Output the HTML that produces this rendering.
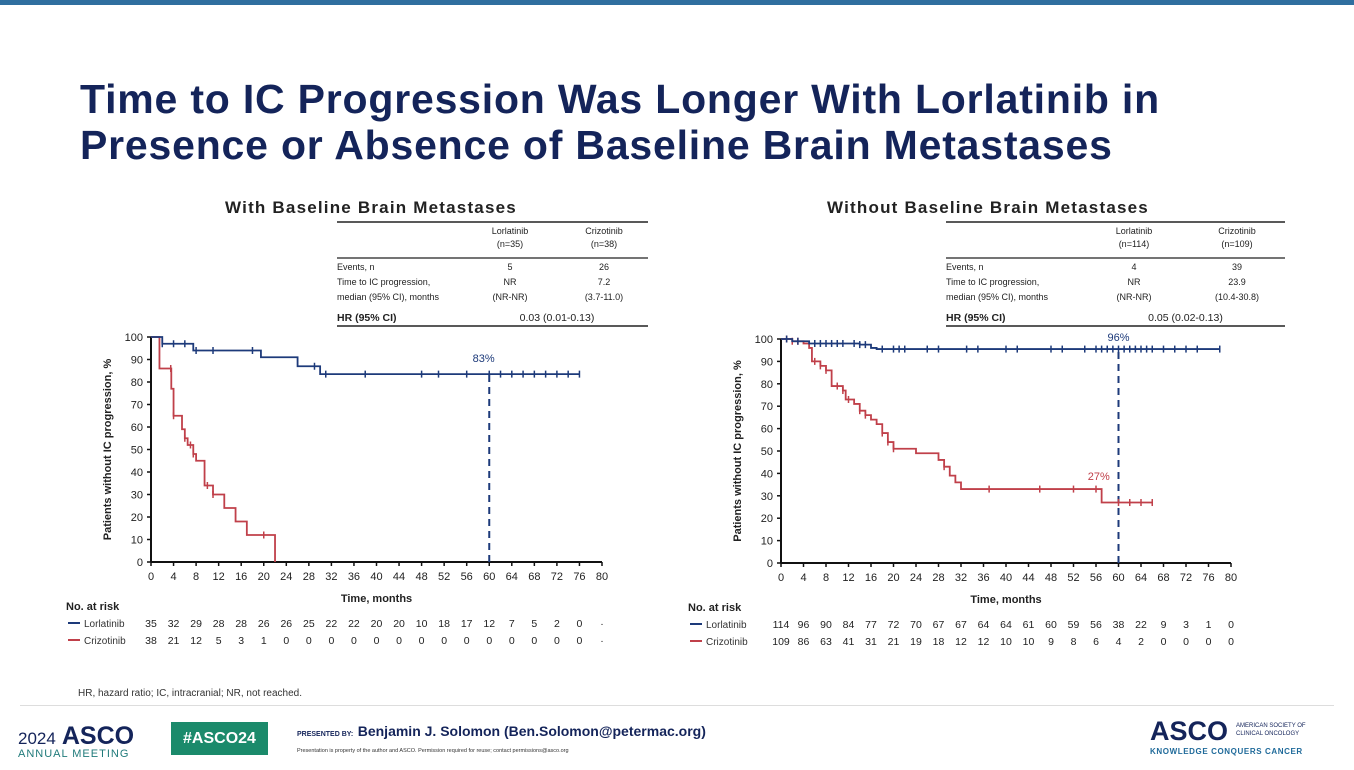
<!DOCTYPE html>
<html><head><meta charset="utf-8">
<style>
html,body{margin:0;padding:0;background:#fff;}
body{width:1354px;height:770px;position:relative;overflow:hidden;font-family:"Liberation Sans",sans-serif;}
.abs{position:absolute;}
</style></head>
<body>
<div class="abs" style="left:0;top:0;width:1354px;height:5px;background:#2f6f9f;"></div>
<div class="abs" style="left:80px;top:76px;font-size:41px;letter-spacing:0.8px;font-weight:bold;color:#14245a;line-height:46px;white-space:nowrap;">Time to IC Progression Was Longer With Lorlatinib in<br>Presence or Absence of Baseline Brain Metastases</div>

<svg class="abs" style="left:0;top:0" width="1354" height="770" id="svg"></svg>

<div class="abs" style="left:78px;top:688px;font-size:10px;color:#333;">HR, hazard ratio; IC, intracranial; NR, not reached.</div>
<div class="abs" style="left:20px;top:705px;width:1314px;height:1px;background:#ddd;"></div>
<div class="abs" style="left:18px;top:722px;color:#14245a;">
  <span style="font-size:17px;">2024</span><span style="font-size:25px;font-weight:bold;"> ASCO</span>
  <div style="font-size:11px;color:#1f7a7a;letter-spacing:1px;margin-top:-3px;">ANNUAL MEETING</div>
</div>
<div class="abs" style="left:171px;top:722px;width:97px;height:33px;background:#1b8a6b;color:#fff;font-size:16px;font-weight:bold;text-align:center;line-height:33px;">#ASCO24</div>
<div class="abs" style="left:297px;top:723px;color:#14245a;"><span style="font-size:7px;font-weight:bold;">PRESENTED BY:</span> <span style="font-size:14px;font-weight:bold;">Benjamin J. Solomon (Ben.Solomon@petermac.org)</span></div>
<div class="abs" style="left:297px;top:748px;font-size:5.5px;color:#333;">Presentation is property of the author and ASCO. Permission required for reuse; contact permissions@asco.org</div>
<div class="abs" style="left:1150px;top:716px;color:#14245a;">
  <span style="font-size:27px;font-weight:bold;">ASCO</span><span style="font-size:6px;display:inline-block;vertical-align:top;margin-left:8px;margin-top:6px;line-height:8px;">AMERICAN SOCIETY OF<br>CLINICAL ONCOLOGY</span>
  <div style="font-size:8px;color:#1f6a9a;font-weight:bold;letter-spacing:0.6px;">KNOWLEDGE CONQUERS CANCER</div>
</div>

<script>
// ---- data ----
const xTicks=[0,4,8,12,16,20,24,28,32,36,40,44,48,52,56,60,64,68,72,76,80];
const yTicks=[0,10,20,30,40,50,60,70,80,90,100];
// Left chart (with brain mets)
const L_lorT=[0,2,7.5,19.5,26,30,76];
const L_lorS=[100,97,94,91,87,83.5,83.5];
const L_lorC=[2,4,6,8,11,18,29,31,38,48,51,56,60,62,64,66,68,70,72,74,76];
const L_crzT=[0,1.5,3.6,4,5.5,6,6.5,7.5,8,9.5,11,13,15,17,22];
const L_crzS=[100,86,77,65,59,55,52,48,45,34,30,24,18,12,0];
const L_crzC=[3.5,4,6,7,7.5,10,11,20];
const L_risk_lor=["35","32","29","28","28","26","26","25","22","22","20","20","10","18","17","12","7","5","2","0","·"];
const L_risk_crz=["38","21","12","5","3","1","0","0","0","0","0","0","0","0","0","0","0","0","0","0","·"];
// Right chart (without brain mets)
const R_lorT=[0,2,5,14,16,17,78];
const R_lorS=[100,99,98,97.5,96,95.5,95.5];
const R_lorC=[1,3,6,7,8,9,10,11,13,14,15,18,20,21,22,26,28,33,35,40,42,48,50,54,56,57,58,59,60,61,62,63,64,65,66,68,70,72,74,78];
const R_crzT=[0,2,4,5,5.5,7,8,9,11,11.5,13,14,15,16,17,18,19,20,24,28,29,30,31,32,57,66];
const R_crzS=[100,99,98,96,90,88,86,79,77,73,71,68,66,64,62,58,54,51,49,46,43,39,36,33,27,27];
const R_crzC=[1,2,3,6,7,8,10,11,12,14,15,18,19,20,29,37,46,52,56,60,62,64,66];
const R_risk_lor=["114","96","90","84","77","72","70","67","67","64","64","61","60","59","56","38","22","9","3","1","0"];
const R_risk_crz=["109","86","63","41","31","21","19","18","12","12","10","10","9","8","6","4","2","0","0","0","0"];

const NS="http://www.w3.org/2000/svg";
const svg=document.getElementById('svg');
function mk(tag,attrs,parent,text){const e=document.createElementNS(NS,tag);for(const k in attrs)e.setAttribute(k,attrs[k]);if(text!==undefined)e.textContent=text;(parent||svg).appendChild(e);return e;}
const BLUE="#1d3a7a", RED="#c0404a";

function stepPath(T,S,sx,sy){let d="M"+sx(T[0])+","+sy(S[0]);for(let i=1;i<T.length;i++){d+=" H"+sx(T[i])+" V"+sy(S[i]);}return d;}
function survAt(T,S,t){let v=S[0];for(let i=0;i<T.length;i++){if(T[i]<=t)v=S[i];}return v;}

function chart(cfg){
  const g=mk('g',{});
  
  
  const sx=t=>cfg.x0+(cfg.x1-cfg.x0)*t/80;
  const sy=v=>cfg.y0-(cfg.y0-cfg.y1)*v/100;
  const ax=mk('line',{x1:sx(0),y1:sy(0),x2:sx(80),y2:sy(0),stroke:"#111","stroke-width":2},g);
  
  const ay=mk('line',{x1:sx(0),y1:sy(0),x2:sx(0),y2:sy(100),stroke:"#111","stroke-width":2},g);
  
  xTicks.forEach(t=>{mk('line',{x1:sx(t),y1:sy(0),x2:sx(t),y2:sy(0)+4,stroke:"#111","stroke-width":1.5},g);
    const l=mk('text',{x:sx(t),y:sy(0)+18,"font-size":11,"text-anchor":"middle",fill:"#222"},g,String(t));
    });
  yTicks.forEach(v=>{mk('line',{x1:sx(0)-4,y1:sy(v),x2:sx(0),y2:sy(v),stroke:"#111","stroke-width":1.5},g);
    const l=mk('text',{x:sx(0)-8,y:sy(v)+4,"font-size":11,"text-anchor":"end",fill:"#222"},g,String(v));
    });
  const yt=mk('text',{x:0,y:0,"font-size":11,"font-weight":"bold","text-anchor":"middle",fill:"#222",transform:`translate(${sx(0)-40},${sy(50)}) rotate(-90)`},g,"Patients without IC progression, %");
  
  const xt=mk('text',{x:sx(40),y:sy(0)+40,"font-size":11,"font-weight":"bold","text-anchor":"middle",fill:"#222"},g,"Time, months");
  
  const dl=mk('line',{x1:sx(60),y1:sy(0),x2:sx(60),y2:sy(cfg.refTop),stroke:BLUE,"stroke-width":2,"stroke-dasharray":"7,5"},g);
  
  [[cfg.crzT,cfg.crzS,cfg.crzC,RED,'crizotinib'],[cfg.lorT,cfg.lorS,cfg.lorC,BLUE,'lorlatinib']].forEach(([T,S,C,col,nm])=>{
    const p=mk('path',{d:stepPath(T,S,sx,sy),fill:"none",stroke:col,"stroke-width":1.8},g);
    
    C.forEach(t=>{const v=survAt(T,S,t);const m=mk('line',{x1:sx(t),y1:sy(v)-3.5,x2:sx(t),y2:sy(v)+3.5,stroke:col,"stroke-width":1.5},g);
      });
  });
  cfg.labels.forEach(([txt,x,y,col])=>{const l=mk('text',{x:sx(x),y:sy(y),"font-size":11,"text-anchor":"middle",fill:col},g,txt);
    });
  const ry=cfg.y0+48;
  const h=mk('text',{x:cfg.riskX,y:ry,"font-size":11,"font-weight":"bold",fill:"#222"},g,"No. at risk");
  
  [[cfg.riskLor,"Lorlatinib",BLUE,17],[cfg.riskCrz,"Crizotinib",RED,34]].forEach(([arr,nm,col,dy])=>{
    mk('line',{x1:cfg.riskX+2,y1:ry+dy-4,x2:cfg.riskX+14,y2:ry+dy-4,stroke:col,"stroke-width":2},g);
    mk('text',{x:cfg.riskX+18,y:ry+dy,"font-size":10,fill:"#333"},g,nm);
    arr.forEach((v,i)=>{const l=mk('text',{x:sx(xTicks[i]),y:ry+dy,"font-size":10.5,"text-anchor":"middle",fill:"#222"},g,v);
      });
  });
}
chart({name:'km-with-brain-mets',x0:151,x1:602,y0:562,y1:337,lorT:L_lorT,lorS:L_lorS,lorC:L_lorC,crzT:L_crzT,crzS:L_crzS,crzC:L_crzC,refTop:83.5,
  labels:[["83%",59,89,BLUE]],riskX:66,riskLor:L_risk_lor,riskCrz:L_risk_crz});
chart({name:'km-without-brain-mets',x0:781,x1:1231,y0:563,y1:339,lorT:R_lorT,lorS:R_lorS,lorC:R_lorC,crzT:R_crzT,crzS:R_crzS,crzC:R_crzC,refTop:95.5,
  labels:[["96%",60,99,BLUE],["27%",56.5,37,RED]],riskX:688,riskLor:R_risk_lor,riskCrz:R_risk_crz});

function table(cfg){
  const g=mk('g',{});
  
  
  const t=mk('text',{x:cfg.titleX,y:cfg.y-9,"font-size":17,"font-weight":"bold",fill:"#222","text-anchor":"middle","letter-spacing":1.2},g,cfg.title);
  
  mk('line',{x1:cfg.x,y1:cfg.y,x2:cfg.x2,y2:cfg.y,stroke:"#222","stroke-width":1.5},g);
  mk('line',{x1:cfg.x,y1:cfg.y+36,x2:cfg.x2,y2:cfg.y+36,stroke:"#222","stroke-width":1.2},g);
  mk('line',{x1:cfg.x,y1:cfg.y+104,x2:cfg.x2,y2:cfg.y+104,stroke:"#222","stroke-width":1.5},g);
  const fs=9;
  mk('text',{x:cfg.c1,y:cfg.y+12,"font-size":fs,"text-anchor":"middle",fill:"#222"},g,"Lorlatinib");
  mk('text',{x:cfg.c1,y:cfg.y+25,"font-size":fs,"text-anchor":"middle",fill:"#222"},g,cfg.n1);
  mk('text',{x:cfg.c2,y:cfg.y+12,"font-size":fs,"text-anchor":"middle",fill:"#222"},g,"Crizotinib");
  mk('text',{x:cfg.c2,y:cfg.y+25,"font-size":fs,"text-anchor":"middle",fill:"#222"},g,cfg.n2);
  const rows=[["Events, n",cfg.ev1,cfg.ev2,48],["Time to IC progression,","NR",cfg.m2,63],["median (95% CI), months","(NR-NR)",cfg.ci2,78]];
  rows.forEach(([a,b,c,dy])=>{mk('text',{x:cfg.x,y:cfg.y+dy,"font-size":fs,fill:"#222"},g,a);
    mk('text',{x:cfg.c1,y:cfg.y+dy,"font-size":fs,"text-anchor":"middle",fill:"#222"},g,b);
    mk('text',{x:cfg.c2,y:cfg.y+dy,"font-size":fs,"text-anchor":"middle",fill:"#222"},g,c);});
  mk('text',{x:cfg.x,y:cfg.y+99,"font-size":10.5,"font-weight":"bold",fill:"#222"},g,"HR (95% CI)");
  mk('text',{x:(cfg.c1+cfg.c2)/2,y:cfg.y+99,"font-size":10.5,"text-anchor":"middle",fill:"#222"},g,cfg.hr);
}
table({name:'with-mets-summary-table',title:"With Baseline Brain Metastases",titleX:371,x:337,x2:648,y:222,c1:510,c2:604,n1:"(n=35)",n2:"(n=38)",ev1:"5",ev2:"26",m2:"7.2",ci2:"(3.7-11.0)",hr:"0.03 (0.01-0.13)"});
table({name:'without-mets-summary-table',title:"Without Baseline Brain Metastases",titleX:988,x:946,x2:1285,y:222,c1:1134,c2:1237,n1:"(n=114)",n2:"(n=109)",ev1:"4",ev2:"39",m2:"23.9",ci2:"(10.4-30.8)",hr:"0.05 (0.02-0.13)"});
</script>
</body></html>
